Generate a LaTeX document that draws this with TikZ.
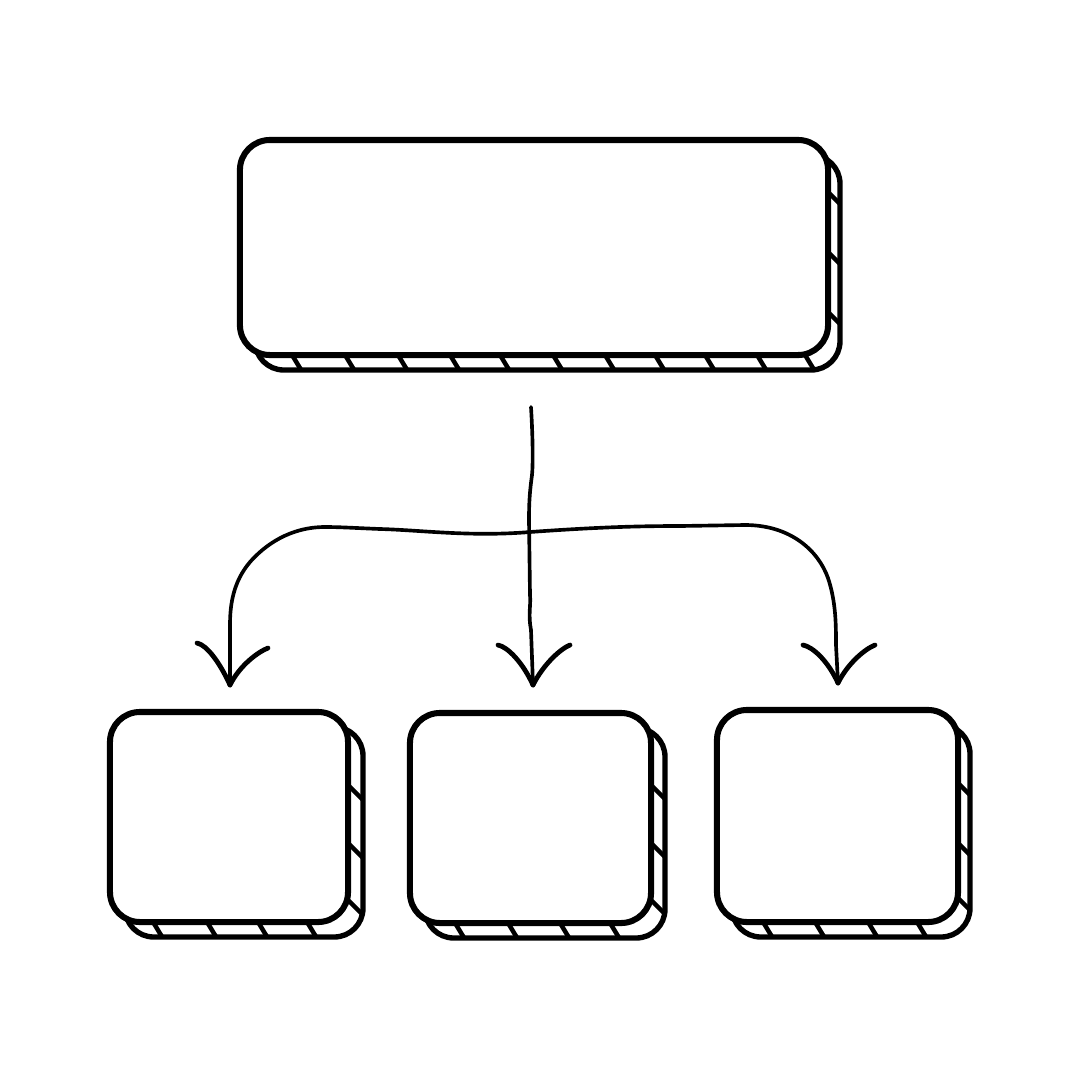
\documentclass[tikz,border=0pt]{standalone}
\begin{document}
\begin{tikzpicture}[x=0.025cm,y=-0.025cm,
  frontbox/.style={draw=black,fill=white,line width=4.3pt,rounded corners=0.75cm,minimum width=#1,inner sep=0pt},
  backbox/.style={draw=black,fill=white,line width=3.8pt,rounded corners=0.72cm},
  hatch/.style={line width=3.2pt,line cap=round},
  conn/.style={line width=2.6pt,line cap=round,line join=round},
  tipline/.style={line width=3.4pt,line cap=round}]
\useasboundingbox[fill=white] (0,0) rectangle (1080,1080);

% ---------- top box ----------
\draw[backbox] (255,155) rectangle (840,370);
\begin{scope}
  \clip[rounded corners=0.72cm] (255,155) rectangle (840,370);
  \foreach \yy in {192,252,312} \draw[hatch] (818,\yy-10) -- (848,\yy+20);
  \foreach \xx in {292,345,398,450,500,553,605,655,705,757,805} \draw[hatch] (\xx-6,345) -- (\xx+14,378);
\end{scope}
\node[frontbox=14.7cm,minimum height=5.375cm] (top) at (534,247.5) {};

% ---------- bottom-left box ----------
\draw[backbox] (125,727) rectangle (363,937);
\begin{scope}
  \clip[rounded corners=0.72cm] (125,727) rectangle (363,937);
  \foreach \yy in {785,843,900} \draw[hatch] (338,\yy-10) -- (368,\yy+20);
  \foreach \xx in {153,207,258,307} \draw[hatch] (\xx-6,912) -- (\xx+14,945);
\end{scope}
\node[frontbox=5.95cm,minimum height=5.25cm] (left) at (229,817) {};

% ---------- bottom-middle box ----------
\draw[backbox] (425,728) rectangle (665,938);
\begin{scope}
  \clip[rounded corners=0.72cm] (425,728) rectangle (665,938);
  \foreach \yy in {785,843,900} \draw[hatch] (641,\yy-10) -- (671,\yy+20);
  \foreach \xx in {455,508,560,610} \draw[hatch] (\xx-6,913) -- (\xx+14,946);
\end{scope}
\node[frontbox=6.025cm,minimum height=5.25cm] (mid) at (530.5,818) {};

% ---------- bottom-right box ----------
\draw[backbox] (732,725) rectangle (970,937);
\begin{scope}
  \clip[rounded corners=0.72cm] (732,725) rectangle (970,937);
  \foreach \yy in {783,843,898} \draw[hatch] (948,\yy-10) -- (978,\yy+20);
  \foreach \xx in {763,815,868,917} \draw[hatch] (\xx-6,912) -- (\xx+14,945);
\end{scope}
\node[frontbox=6.025cm,minimum height=5.3cm] (right) at (837.5,816) {};

% ---------- connectors ----------
\coordinate (src) at (531,407);
\coordinate (split) at (530,532);
\coordinate (tipL) at (230,685);
\coordinate (tipM) at (533,685);
\coordinate (tipR) at (838,683);

\draw[conn] (src) .. controls (533,440) and (533,465) .. (532,475)
  .. controls (530,490) and (529,500) .. (529,520) -- (530,595)
  .. controls (531,605) and (528,615) .. (531,630) -- (tipM);

\draw[conn] (split) .. controls (470,537) and (420,530) .. (380,529)
  .. controls (355,528) and (340,527) .. (325,527)
  .. controls (290,527) and (265,545) .. (250,562)
  .. controls (233,582) and (230,605) .. (230,625) -- (tipL);

\draw[conn] (split) .. controls (600,527) and (640,526) .. (680,526) -- (745,525)
  .. controls (790,525) and (818,550) .. (828,578)
  .. controls (836,602) and (836,625) .. (836,645) -- (tipR);

% ---------- arrowheads ----------
\foreach \t/\la/\lb/\ra/\rb in {tipL/-33/-42/38/-37, tipM/-35/-40/37/-40, tipR/-35/-38/37/-38}{
  \draw[tipline] ([shift={(\la,\lb)}]\t) .. controls ([shift={(\la+10,\lb+2)}]\t) and ([shift={(-10,-22)}]\t) .. (\t);
  \draw[tipline] ([shift={(\ra,\rb)}]\t) .. controls ([shift={(\ra-10,\rb+4)}]\t) and ([shift={(10,-20)}]\t) .. (\t);
}
\end{tikzpicture}
\end{document}
